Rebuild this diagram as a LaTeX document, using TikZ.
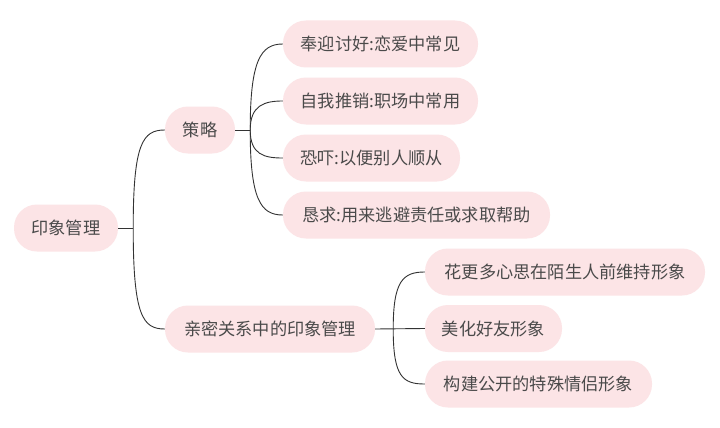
\documentclass[tikz,border=0pt]{standalone}
\usepackage{fontspec}
\setmainfont{Noto Sans CJK SC}
\definecolor{pill}{HTML}{FCE4E6}
\definecolor{txt}{HTML}{4A4A4A}
\definecolor{ln}{HTML}{333333}
\begin{document}
\begin{tikzpicture}[x=1pt,y=-1pt,
  pillbox/.style={fill=pill,draw=none,rounded corners=23pt,minimum height=47pt,inner sep=0pt,text=txt,font=\fontsize{17.2}{20}\selectfont,anchor=center},
  conn/.style={draw=ln,line width=0.9pt}]
\fill[white] (0,0) rectangle (720,428);
\useasboundingbox (0,0) rectangle (720,428);
\node[pillbox,minimum width=104pt] (root) at (66,228) {印象管理};
\node[pillbox,minimum width=70pt] (ce) at (200,130) {策略};
\node[pillbox,minimum width=195pt] (a1) at (380.5,44) {奉迎讨好:恋爱中常见};
\node[pillbox,minimum width=195pt] (a2) at (380.5,101) {自我推销:职场中常用};
\node[pillbox,minimum width=177pt] (a3) at (371.5,158) {恐吓:以便别人顺从};
\node[pillbox,minimum width=267pt] (a4) at (416.5,215) {恳求:用来逃避责任或求取帮助};
\node[pillbox,minimum width=210pt] (qm) at (270,329) {亲密关系中的印象管理};
\node[pillbox,minimum width=280pt] (b1) at (565,272) {花更多心思在陌生人前维持形象};
\node[pillbox,minimum width=137pt] (b2) at (493.5,328.5) {美化好友形象};
\node[pillbox,minimum width=227pt] (b3) at (538.5,384) {构建公开的特殊情侣形象};
% root
\draw[conn] (root.east) -- ++(15,0) coordinate (j1);
\draw[conn] (j1) .. controls +(0,-85) and +(-22,0) .. (ce.west);
\draw[conn] (j1) .. controls +(0,88) and +(-22,0) .. (qm.west);
% strategy
\draw[conn] (ce.east) -- ++(15,0) coordinate (j2);
\draw[conn] (j2) .. controls +(0,-70) and +(-22,0) .. (a1.west);
\draw[conn] (j2) .. controls +(0,-25) and +(-18,0) .. (a2.west);
\draw[conn] (j2) .. controls +(0,25) and +(-18,0) .. (a3.west);
\draw[conn] (j2) .. controls +(0,70) and +(-22,0) .. (a4.west);
% intimate
\draw[conn] (qm.east) -- (b2.west);
\coordinate (j3) at ([xshift=18pt]qm.east);
\draw[conn] (j3) .. controls +(0,-48) and +(-22,0) .. (b1.west);
\draw[conn] (j3) .. controls +(0,48) and +(-22,0) .. (b3.west);
\end{tikzpicture}
\end{document}
